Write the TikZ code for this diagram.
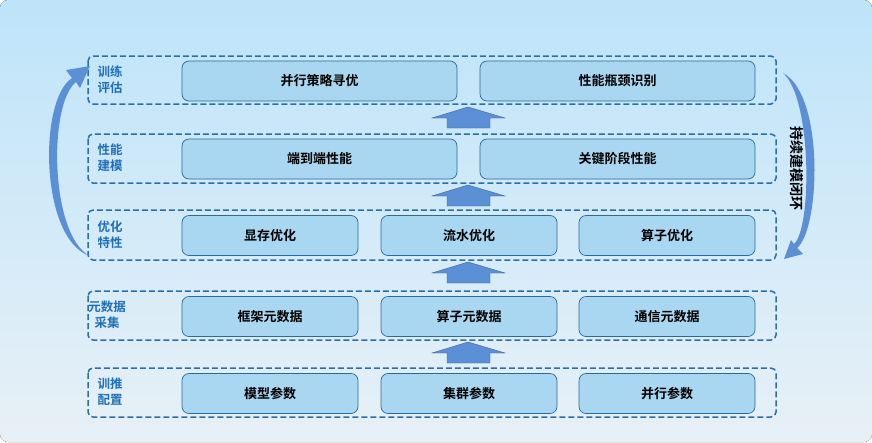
\documentclass[tikz,border=0pt]{standalone}
\usepackage{fontspec}
\setmainfont{Noto Sans CJK SC}
\newfontfamily\cjkb{Noto Sans CJK SC}[BoldFont={* Bold}]
\definecolor{frm}{HTML}{2A6FA8}
\definecolor{lbl}{HTML}{1F6FB8}
\definecolor{boxf}{HTML}{A9D6F0}
\definecolor{boxd}{HTML}{2B6A9C}
\definecolor{arr}{HTML}{5B8FD6}
\begin{document}
\begin{tikzpicture}[x=1pt,y=-1pt,
 frame/.style={draw=frm,dash pattern=on 6pt off 3pt,line width=1.5pt,rounded corners=5pt},
 box/.style={draw=boxd,fill=boxf,rounded corners=7pt,line width=0.7pt,font=\cjkb\bfseries\fontsize{13}{15}\selectfont},
 lab/.style={text=lbl,font=\cjkb\bfseries\fontsize{12.5}{16}\selectfont,align=left,anchor=west},
 up/.style={fill=arr,draw=arr!70!black,line width=0.4pt}]
\useasboundingbox (0,0) rectangle (872,442);
\fill[top color={rgb,255:red,190;green,228;blue,250},bottom color={rgb,255:red,232;green,240;blue,246},rounded corners=8pt] (0,0) rectangle (872,442);
% frames
\foreach \n/\a/\b in {f1/56/104,f2/134/183,f3/210/260,f4/291/340,f5/368/417}
 \draw[frame] (88,\a) rectangle (776,\b) coordinate (\n);
% labels
\node[lab] (l1) at (94,80) {训练\\评估};
\node[lab] (l2) at (94,158) {性能\\建模};
\node[lab] (l3) at (94,235) {优化\\特性};
\node[lab,align=center,anchor=center] (l4) at (107,315) {元数据\\采集};
\node[lab] (l5) at (94,392) {训推\\配置};
% boxes
\newcommand\bx[5]{\node[box,minimum width={#3-#2},minimum height=40pt] (#1) at ({(#2+#3)/2},#4) {#5};}
\bx{a1}{182}{457}{81}{并行策略寻优}
\bx{a2}{480}{755}{81}{性能瓶颈识别}
\bx{b1}{182}{457}{159}{端到端性能}
\bx{b2}{480}{755}{159}{关键阶段性能}
\bx{c1}{182}{358}{235.5}{显存优化}
\bx{c2}{381}{557}{235.5}{流水优化}
\bx{c3}{579}{755}{235.5}{算子优化}
\bx{d1}{182}{358}{316.5}{框架元数据}
\bx{d2}{381}{557}{316.5}{算子元数据}
\bx{d3}{579}{755}{316.5}{通信元数据}
\bx{e1}{182}{358}{393.5}{模型参数}
\bx{e2}{381}{557}{393.5}{集群参数}
\bx{e3}{579}{755}{393.5}{并行参数}
% up arrows
\foreach \y in {107,185,262,342}
 \draw[up] (447,\y+21) -- (447,\y+11) -- (432,\y+11) -- (468,\y) -- (505,\y+11) -- (490,\y+11) -- (490,\y+21) -- cycle;
% left loop arrow
\coordinate (ls) at (90,256);
\fill[arr] (ls) .. controls (40,240) and (38,100) .. (72,78) -- (66,70) -- (90,66) -- (80,88) -- (76,82) .. controls (48,104) and (50,236) .. (ls) -- cycle;
% right loop arrow
\coordinate (rs) at (783,73);
\fill[arr] (rs) .. controls (825,95) and (820,230) .. (797,248) -- (803,254) -- (784,259) -- (791,240) -- (794,244) .. controls (812,228) and (812,98) .. (rs) -- cycle;
\node[rotate=-90,font=\cjkb\bfseries\fontsize{14}{16}\selectfont] (loop) at (797,168) {持续建模闭环};
\end{tikzpicture}
\end{document}
